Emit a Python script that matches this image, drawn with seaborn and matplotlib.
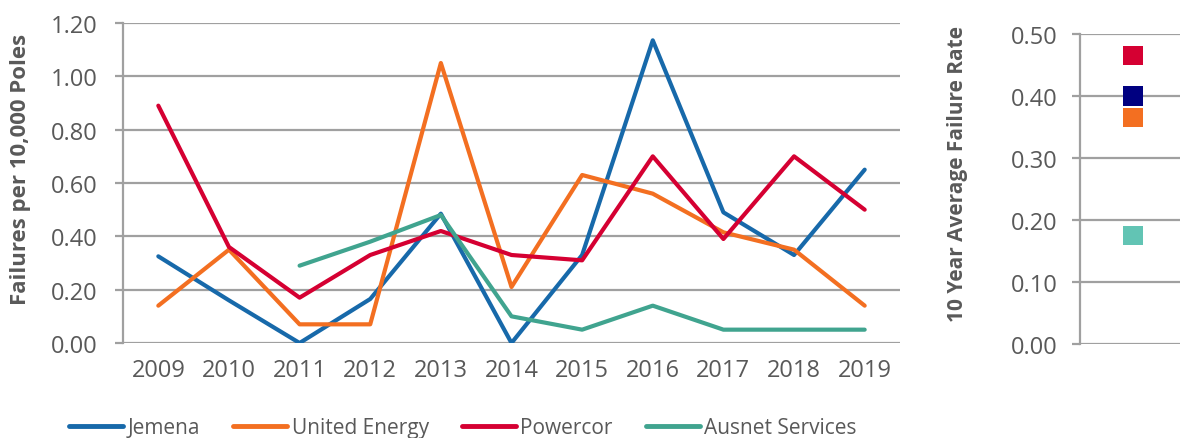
import matplotlib
matplotlib.use("Agg")
import matplotlib.pyplot as plt
import seaborn as sns
import pandas as pd
import numpy as np

years = list(range(2009, 2020))
jemena = [0.325, 0.16, 0.00, 0.165, 0.485, 0.00, 0.33, 1.135, 0.49, 0.33, 0.65]
united_energy = [0.14, 0.35, 0.07, 0.07, 1.05, 0.21, 0.63, 0.56, 0.415, 0.35, 0.14]
powercor = [0.89, 0.36, 0.17, 0.33, 0.42, 0.33, 0.31, 0.70, 0.39, 0.70, 0.50]
ausnet = [np.nan, np.nan, 0.29, 0.38, 0.48, 0.10, 0.05, 0.14, 0.05, 0.05, 0.05]

series_names = ["Jemena", "United Energy", "Powercor", "Ausnet Services"]
line_colors = ["#1769AA", "#F36F21", "#D50032", "#40A48F"]

avg_names = ["Powercor", "Jemena", "United Energy", "Ausnet Services"]
avg_values = [0.465, 0.40, 0.365, 0.175]
avg_colors = ["#D50032", "#000080", "#F36F21", "#62C4B4"]

sns.set_theme(style="white")
plt.rcParams["font.family"] = ["Open Sans", "DejaVu Sans"]

grey_text = "#595959"
grid_col = "#A0A0A0"

rows = []
for name, vals in zip(series_names, [jemena, united_energy, powercor, ausnet]):
    for y, v in zip(years, vals):
        rows.append({"Year": y, "Value": v, "Series": name})
df = pd.DataFrame(rows).dropna()

fig = plt.figure(figsize=(11.8, 4.39), dpi=100)
W, H = 1180, 439
ax = fig.add_axes([123 / W, 1 - 344 / H, (900 - 123) / W, (344 - 24) / H])
ax2 = fig.add_axes([1080 / W, 1 - 345 / H, 100 / W, (345 - 35) / H])

sns.lineplot(data=df, x="Year", y="Value", hue="Series", hue_order=series_names,
             palette=dict(zip(series_names, line_colors)), linewidth=3.0,
             ax=ax, legend=False, sort=True)
ax.set_xlim(2008.5, 2019.5)
ax.set_ylim(0, 1.2)
ax.set_yticks(np.arange(0, 1.21, 0.2))
ax.set_yticklabels([f"{v:.2f}" for v in np.arange(0, 1.21, 0.2)])
ax.set_xticks(years)
ax.set_xticklabels([str(y) for y in years])
ax.yaxis.grid(True, color=grid_col, linewidth=1.6)
ax.set_axisbelow(True)
for s in ["top", "right", "bottom"]:
    ax.spines[s].set_visible(False)
ax.spines["left"].set_color(grid_col)
ax.spines["left"].set_linewidth(1.6)
ax.tick_params(axis="y", length=6, width=1.6, color=grid_col, labelsize=17,
               labelcolor=grey_text, pad=12, left=True)
ax.tick_params(axis="x", length=0, labelsize=17, labelcolor=grey_text, pad=11)
ax.set_xlabel("")
ax.set_ylabel("Failures per 10,000 Poles", fontsize=16, fontweight="bold",
              color=grey_text)
ax.yaxis.set_label_coords(-0.118, 0.547)

# right panel
df2 = pd.DataFrame({"x": [0] * len(avg_values), "Value": avg_values, "Series": avg_names})
sns.scatterplot(data=df2, x="x", y="Value", hue="Series", hue_order=avg_names,
                palette=dict(zip(avg_names, avg_colors)), marker="s", s=190,
                linewidth=0, ax=ax2, legend=False, zorder=3)
ax2.set_xlim(-0.53, 0.47)
ax2.set_ylim(0, 0.5)
ax2.set_yticks(np.arange(0, 0.51, 0.1))
ax2.set_yticklabels([f"{v:.2f}" for v in np.arange(0, 0.51, 0.1)])
ax2.set_xticks([])
ax2.yaxis.grid(True, color=grid_col, linewidth=1.6)
ax2.set_axisbelow(True)
for s in ["top", "right", "bottom"]:
    ax2.spines[s].set_visible(False)
ax2.spines["left"].set_color(grid_col)
ax2.spines["left"].set_linewidth(1.6)
ax2.tick_params(axis="y", length=6, width=1.6, color=grid_col, labelsize=17,
                labelcolor=grey_text, pad=10, left=True)
ax2.set_xlabel("")
ax2.set_ylabel("10 Year Average Failure Rate", fontsize=15, fontweight="bold",
               color=grey_text)
ax2.yaxis.set_label_coords(-1.12, 0.552)

from matplotlib.lines import Line2D
handles = [Line2D([0], [0], color=c, linewidth=3.5, solid_capstyle="round") for c in line_colors]
leg = fig.legend(handles, series_names, loc="center", ncol=4,
                 bbox_to_anchor=(463 / W, 1 - 429 / H), frameon=False,
                 fontsize=15, handlelength=2.6, handletextpad=0.2, columnspacing=1.6)
for t in leg.get_texts():
    t.set_color(grey_text)

fig.savefig("out.png", dpi=100)
